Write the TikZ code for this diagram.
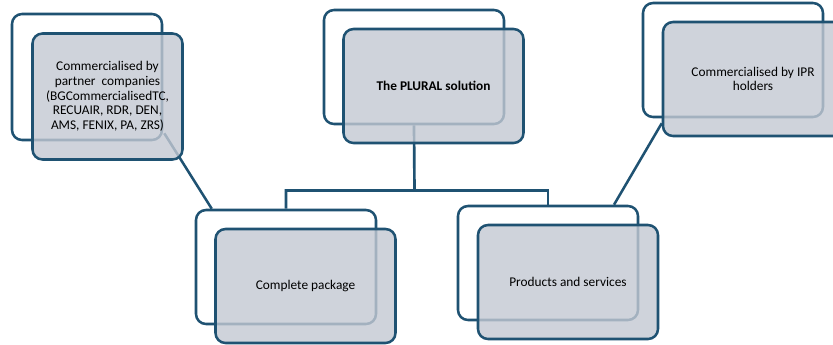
\documentclass[tikz,border=0pt]{standalone}
\usepackage{fontspec}
\setmainfont{Carlito}
\usetikzlibrary{calc}
\definecolor{edgeblue}{RGB}{31,82,114}
\definecolor{panelgray}{RGB}{196,201,211}
\begin{document}
\begin{tikzpicture}[x=0.75pt, y=-0.75pt]
\tikzset{panelbk/.style={draw=edgeblue, line width=1.9pt, rounded corners=7.5pt, minimum width=135pt, minimum height=85.5pt, inner sep=0pt},
panel/.style={panelbk, fill=panelgray, fill opacity=0.8, text opacity=1, align=center, font=\fontsize{10}{11}\selectfont}}
\clip (0,0) rectangle (833,344);
\fill[white] (0,0) rectangle (833,344);
% back frames
\node[panelbk, minimum width=112.5pt, minimum height=94.5pt] (partnerbk) at (87,77) {};
\node[panelbk] (pluralbk) at (414,67) {};
\node[panelbk] (iprbk) at (733,60) {};
\node[panelbk] (packagebk) at (286,267) {};
\node[panelbk] (productsbk) at (548,263) {};
% connectors
\coordinate (fork) at (414.5,190.5);
\draw[edgeblue, line width=2pt] (pluralbk.south) -- (fork) -| (packagebk.north);
\draw[edgeblue, line width=2pt] (fork) -| (productsbk.north);
\draw[edgeblue, line width=1.9pt] ($(partnerbk.south east)+(1,-8)$) -- ($(packagebk.north west)+(17,0)$);
\draw[edgeblue, line width=1.9pt] ($(iprbk.south west)+(20,5)$) -- ($(productsbk.north)+(66,0)$);
% front panels
\node[panel, minimum width=112.5pt, minimum height=94.5pt] (partner) at (107.5,96.5) {Commercialised by\\partner\ \ companies\\(BGCommercialisedTC,\\RECUAIR, RDR, DEN,\\AMS, FENIX, PA, ZRS)};
\node[panel] (plural) at (433.5,86) {\textbf{The PLURAL solution}};
\node[panel] (ipr) at (753,79) {Commercialised by IPR\\holders};
\node[panel] (package) at (305.5,286) {Complete package};
\node[panel] (products) at (568,282) {Products and services};
\end{tikzpicture}
\end{document}
